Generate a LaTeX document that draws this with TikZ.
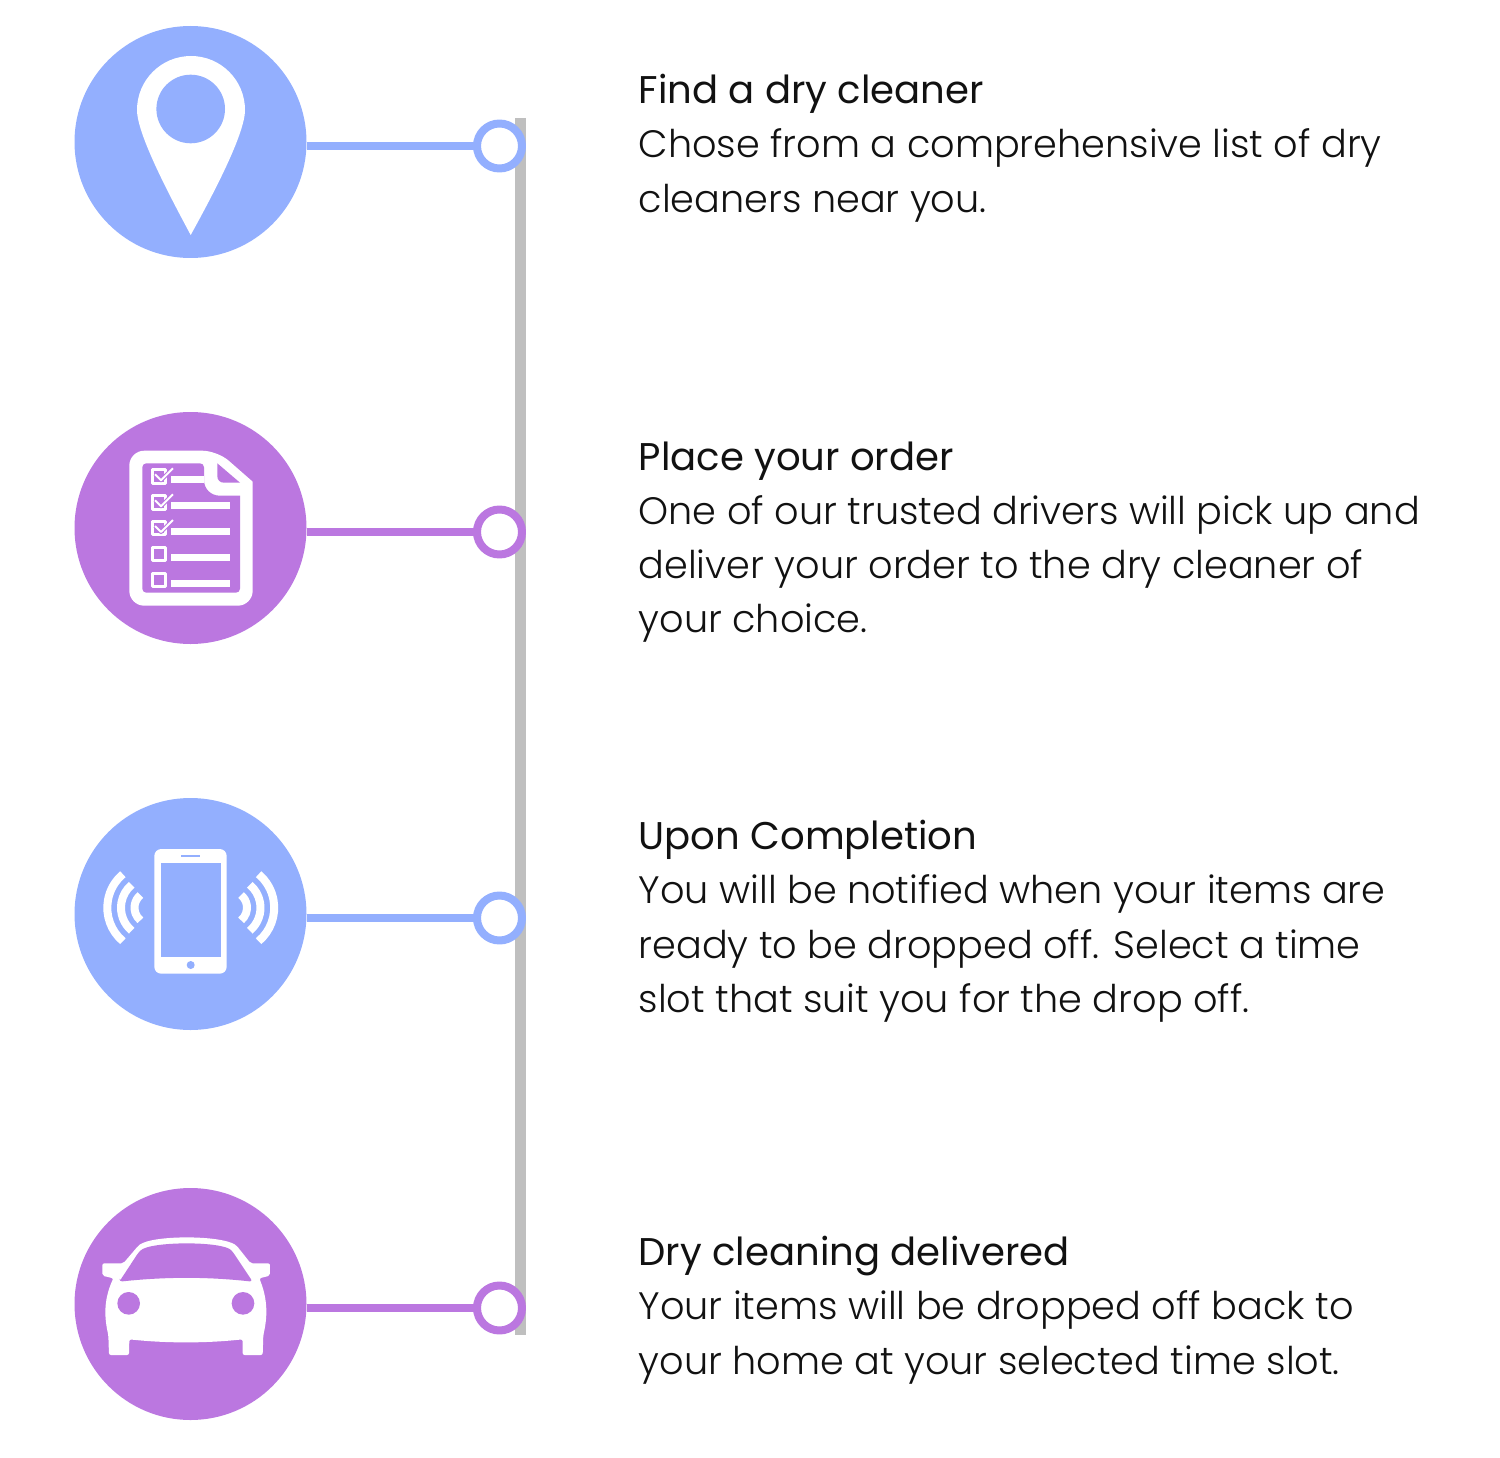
\documentclass[tikz,border=0pt]{standalone}
\usepackage{fontspec}
\setmainfont{Poppins}
\newfontfamily\lightfont{Poppins Light}
\definecolor{stepblue}{HTML}{93AFFE}
\definecolor{steppurple}{HTML}{BB77E0}
\definecolor{bargray}{HTML}{BFBFBF}
\definecolor{inkcol}{HTML}{111111}
\newcommand{\steptitle}[1]{{\fontsize{38.6pt}{54.3pt}\selectfont #1}}
\tikzset{
  iconcircle/.style={circle,minimum size=232pt,inner sep=0pt,outer sep=0pt,fill=#1},
  stepring/.style={circle,minimum size=45pt,inner sep=0pt,outer sep=0pt,draw=#1,line width=8pt,fill=white},
  steptext/.style={anchor=north west,inner sep=0pt,align=left,text=inkcol,font=\fontsize{38.2pt}{54.3pt}\selectfont},
}

\begin{document}
\begin{tikzpicture}[x=1pt,y=-1pt,line join=round]
\useasboundingbox (0,0) rectangle (1500,1458);
%%
\coordinate (bartop) at (520.5,118);
\coordinate (barbot) at (520.5,1335);
\draw [bargray,line width=11pt] (bartop) -- (barbot);
\foreach \n/\cy/\ry/\col in {1/142/146/stepblue,2/528/532/steppurple,3/914/918/stepblue,4/1304/1308/steppurple} {
  \node (circ\n) at (190.5,\cy) [iconcircle=\col] {};
  \node (ring\n) at (499.5,\ry) [stepring=\col] {};
  \draw [\col,line width=8pt] (ring\n.west) -- (ring\n.west -| circ\n.east);
}
% pin
\fill [white] (190.7,235) .. controls (172,200) and (137,135) .. (137,110)
  arc (180:360:54) .. controls (245,135) and (210,200) .. (190.7,235) -- cycle;
\fill [stepblue] (190.7,109) circle (34.3);
% order sheet
\fill [white,rounded corners=15pt] (129.3,450.7) -- (217.3,450.7) [sharp corners] -- (252.7,481.7) [rounded corners=15pt] -- (252.7,605.7) -- (129.3,605.7) -- cycle;
\fill [steppurple,rounded corners=4pt] (142.3,463.3) -- (204,463.3) [sharp corners] -- (204,480) .. controls (204,489) and (211,495.7) .. (220,495.7) -- (240,495.7) [rounded corners=4pt] -- (240,592.7) -- (142.3,592.7) -- cycle;
\fill [steppurple] (217.3,463.3) -- (240,482.7) -- (224,482.7) .. controls (220,482.7) and (217.3,480) .. (217.3,476) -- cycle;
\foreach \y/\x in {476/204,502/230.3,528.3/230.3,554.3/230.3,580.3/230.3}
  \fill [white] (171.3,\y) rectangle (\x,\y+6.6);
\foreach \y in {468.3,494.3,520,546,572}
  \draw [white,line width=3pt] (152,\y+1.5) rectangle (165.5,\y+14.7);
\foreach \y in {468.3,494.3,520} {
  \draw [steppurple,line width=4pt] (155,\y+6) -- (161,\y+12) -- (173,\y);
  \draw [white,line width=2pt] (155,\y+6) -- (161,\y+12) -- (173,\y);
}
% phone
\fill [white,rounded corners=7pt] (154.3,849) rectangle (226.7,973.7);
\fill [stepblue] (161,862.7) rectangle (220.7,957);
\fill [stepblue] (181.3,855) rectangle (200,857);
\fill [stepblue] (190.7,965) circle (4);
\foreach \r in {43.7,30,16.5} {
  \draw [white,line width=8pt] (151,907.7) ++(130:\r) arc (130:230:\r);
  \draw [white,line width=8pt] (230.5,907.7) ++(50:\r) arc (50:-50:\r);
}
% car
\begin{scope}[shift={(60,1180)},scale=1/3]
\fill [white,rounded corners=2pt] (147,525) -- (207,525) -- (208,478) .. controls (320,490) and (436,490) .. (548,478) -- (548,525) -- (608,525) -- (610,465)
  .. controls (625,400) and (620,350) .. (598,295) -- (630,287) -- (630,250) -- (572,250) -- (530,197)
  .. controls (480,165) and (280,165) .. (235,197) -- (190,250) -- (127,250) -- (127,287) -- (160,295)
  .. controls (135,350) and (130,400) .. (145,465) -- cycle;
\fill [steppurple,rounded corners=3pt] (178,305) -- (235,218) .. controls (270,183) and (490,183) .. (520,218) -- (578,305)
  .. controls (440,290) and (320,290) .. (178,305) -- cycle;
\fill [steppurple] (206,370) circle (34) (549,370) circle (34);
\end{scope}
% texts
\node (find) at (638.5,74) [steptext] {\steptitle{Find a dry cleaner}\\{\lightfont Chose from a comprehensive list of dry}\\{\lightfont cleaners near you.}};
\node (place) at (638.5,441.3) [steptext] {\steptitle{Place your order}\\{\lightfont One of our trusted drivers will pick up and}\\{\lightfont deliver your order to the dry cleaner of}\\{\lightfont your choice.}};
\node (upon) at (638.5,820) [steptext] {\steptitle{Upon Completion}\\{\lightfont You will be notified when your items are}\\{\lightfont ready to be dropped off. Select a time}\\{\lightfont slot that suit you for the drop off.}};
\node (dry) at (638.5,1236) [steptext] {\steptitle{Dry cleaning delivered}\\{\lightfont Your items will be dropped off back to}\\{\lightfont your home at your selected time slot.}};
%
\end{tikzpicture}
\end{document}
